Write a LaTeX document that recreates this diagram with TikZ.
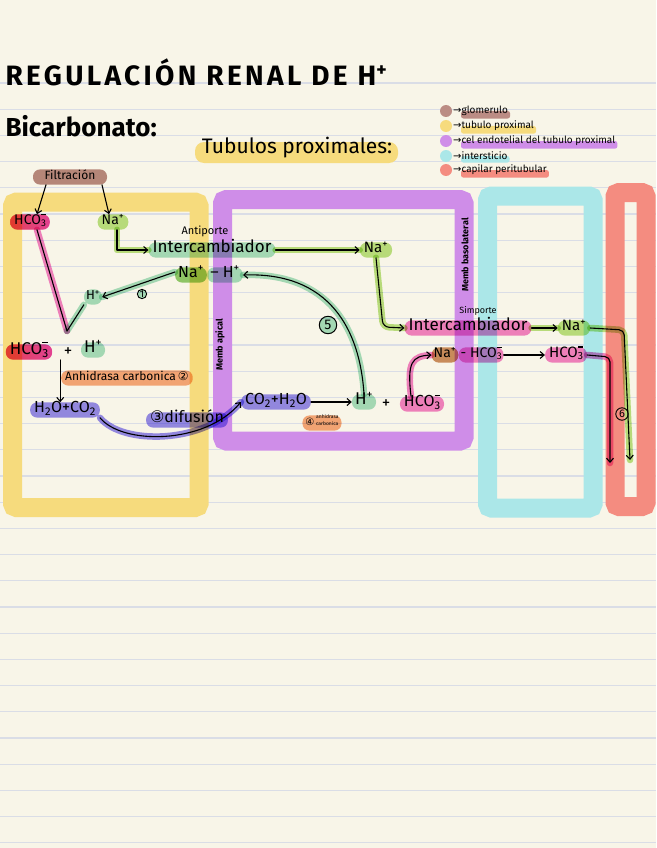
\documentclass[tikz,border=0pt]{standalone}
\usepackage{fontspec}
\setmainfont{Fira Sans}
\newfontfamily\sym{DejaVu Sans}
\usetikzlibrary{arrows.meta,calc}
\pgfdeclarelayer{lines}\pgfdeclarelayer{boxes}\pgfdeclarelayer{hl}
\pgfsetlayers{lines,boxes,hl,main}
\newcommand\fsz[1]{\fontsize{#1}{#1}\selectfont}
\newcommand\supminus{\raisebox{0.66em}{\rule{0.34em}{0.09em}}}
\newcommand\hcoiii{HCO\rlap{\textsubscript{3}}\supminus}
\definecolor{cream}{HTML}{F8F5E8}
\definecolor{ruled}{HTML}{DADDE6}
\definecolor{cyellow}{HTML}{F6DB7D}
\definecolor{cpurple}{HTML}{CF8DE8}
\definecolor{ccyan}{HTML}{ABE7E8}
\definecolor{cred}{HTML}{F48C80}
\definecolor{cmint}{HTML}{A8E0C4}
\definecolor{clgreen}{HTML}{BDE385}
\definecolor{cdgreen}{HTML}{93CE70}
\definecolor{cpink}{HTML}{F485CB}
\definecolor{chred}{HTML}{F5877A}
\definecolor{corange}{HTML}{F8AA7E}
\definecolor{cblue}{HTML}{978DF4}
\definecolor{cglom}{HTML}{BB8C84}
\definecolor{cbrown}{HTML}{CE9163}
\begin{document}
\begin{tikzpicture}[x=1pt,y=-1pt,
  hlbox/.style={fill=#1, rounded corners=7pt, inner xsep=4pt, inner ysep=3pt,
    text height=.72em, text depth=.2em, blend mode=multiply},
  ink/.style={draw=black, line width=1.1pt, line cap=round, line join=round},
  arr/.style={ink, -{Straight Barb[length=4pt,width=7pt]}},
  glow/.style={preaction={draw=#1, line width=6.5pt, arrows=-, line cap=round,
    line join=round, blend mode=multiply}},
  frame/.style={draw=#1, line width=19pt, rounded corners=4pt},
  cnum/.style={font=\sym\fsz{13}, inner sep=0pt},
]
\useasboundingbox (0,0) rectangle (656,848);
\begin{pgfonlayer}{lines}
  \fill[cream] (0,0) rectangle (656,848);
  \foreach \i in {0,...,29} \draw[ruled, line width=1.3pt] (0,{83+26.2*\i}) -- (656,{83+26.2*\i});
\end{pgfonlayer}
\begin{pgfonlayer}{boxes}
  \draw[frame=cyellow] (12.5,202) rectangle (199,507.5);
  \draw[frame=cpurple] (222.5,199.5) rectangle (464,441);
  \draw[frame=ccyan] (487.5,196) rectangle (593,508);
  \draw[frame=cred] (615,192.5) rectangle (646,506.5);
\end{pgfonlayer}

% titles
\node[anchor=west, font=\bfseries\fsz{28}\addfontfeatures{LetterSpace=12}] (title) at (2,72) {REGULACIÓN RENAL DE H\textsuperscript{+}};
\node[anchor=west, font=\bfseries\fsz{26}] (bic) at (2,126) {Bicarbonato:};
\begin{pgfonlayer}{hl}
  \fill[cyellow, rounded corners=9pt] (195,142) rectangle (398,163);
\end{pgfonlayer}
\node[font=\fsz{21}] (tub) at (297,148) {Tubulos proximales:};

% legend
\foreach \c/\t/\y [count=\k] in {cglom/glomerulo/111, cyellow/tubulo proximal/126,
  cpurple/cel endotelial del tubulo proximal/141, ccyan/intersticio/156, cred/capilar peritubular/170} {
  \fill[\c] (446,\y) circle (6);
  \node[anchor=west, font=\fsz{10}, inner sep=1pt] (leg\k) at (452,\y) {{\sym →}\t};
  \begin{pgfonlayer}{hl}
    \fill[\c, rounded corners=2.5pt] ($(leg\k.west)+(9,0)$) rectangle ($(leg\k.south east)+(1,1.5)$);
  \end{pgfonlayer}
}

% left column
\node[hlbox=cglom, font=\fsz{12}, minimum width=74pt] (filt) at (70,177) {Filtración};
\node[hlbox=cpink, left color=chred, right color=cpink, font=\fsz{14}] (hcoa) at (30,222) {\hcoiii};
\node[hlbox=clgreen, font=\fsz{14}] (naa) at (113,222) {Na\textsuperscript{+}};
\draw[arr] ([xshift=-24pt]filt.south) -- ([xshift=7pt]hcoa.north);
\draw[arr] ([xshift=32pt]filt.south) -- ([xshift=-4pt]naa.north);

\node[font=\fsz{11}] (anti) at (205,231) {Antiporte};
\node[hlbox=cmint, font=\fsz{17}] (intera) at (212,250) {Intercambiador};
\draw[arr, glow=clgreen] ([xshift=4pt]naa.south) |- (intera.west);
\node[hlbox=cdgreen, font=\fsz{16}, inner xsep=3pt] (nahna) at (191,275) {Na\textsuperscript{+}};
\node[hlbox=cmint, font=\fsz{16}, anchor=west, inner xsep=3pt] (nahh) at (nahna.east) {– H\textsuperscript{+}};
\node[hlbox=cmint, font=\fsz{13}, inner xsep=2pt] (hsm) at (93,297) {H\textsuperscript{+}};
\draw[arr, glow=cmint] ([yshift=3pt]nahna.west) -- (hsm.east);
\node[cnum, circle, draw=black, line width=0.9pt, fill=cmint, blend mode=multiply, inner sep=0.5pt, font=\fsz{10}] (n1) at (142,294) {1};

\coordinate (vb) at (67,331);
\draw[ink, glow=cpink] ([xshift=7pt]hcoa.south) -- (vb);
\draw[ink, glow=cmint] (vb) -- (hsm.south west);

\node[hlbox=cpink, left color=chred, right color=cpink, font=\fsz{17}] (hcob) at (29,352) {\hcoiii};
\node[font=\fsz{17}] (plus1) at (68,352) {+};
\node[hlbox=cmint, font=\fsz{17}, inner xsep=3pt] (hb) at (93,350) {H\textsuperscript{+}};
\node[hlbox=corange, font=\fsz{12}, anchor=west] (anh) at (61,378) {Anhidrasa carbonica\,{\sym ②}};
\node[hlbox=cblue, font=\fsz{16}] (h2o) at (65,410) {H\textsubscript{2}O+CO\textsubscript{2}};
\draw[arr] (plus1.south west) -- (plus1.south west |- h2o.north);

\node[hlbox=cblue, font=\fsz{16}] (dif) at (187,420) {{\sym ③}difusión};
\node[hlbox=cblue, font=\fsz{16}] (co2) at (276,402) {CO\textsubscript{2}+H\textsubscript{2}O};
\draw[arr, glow=cblue] (h2o.south east) .. controls (122,445) and (205,445) .. (co2.west);

% middle
\node[rotate=90, font=\bfseries\fsz{9}] (mapi) at (220,345) {Memb apical};
\node[hlbox=cmint, font=\fsz{17}, inner xsep=3pt] (hc) at (364,402) {H\textsuperscript{+}};
\draw[arr] (co2.east) -- (hc.west);
\node[hlbox=corange, font=\fsz{10}, inner xsep=3pt] (anh2) at (322,423) {{\sym ④}\,{\fsz{5}\shortstack[l]{anhidrasa\\carbonica}}};
\node[font=\fsz{17}] (plus2) at (386,404) {+};
\node[hlbox=cpink, font=\fsz{16}] (hcoc) at (422,404) {\hcoiii};
\draw[arr, glow=cmint] (hc.north) .. controls (360,330) and (330,272) .. (nahh.east);
\node[cnum, circle, draw=black, line width=1pt, fill=cmint, blend mode=multiply, inner sep=2pt, font=\fsz{14}] (n5) at (328,325) {5};

\node[hlbox=clgreen, font=\fsz{15}] (nab) at (376,250) {Na\textsuperscript{+}};
\draw[arr, glow=clgreen] (intera.east) -- (nab.west);
\node[rotate=90, font=\bfseries\fsz{9}] (mbaso) at (465,255) {Memb basolateral};
\node[font=\fsz{9}] (simp) at (478,311) {Simporte};
\node[hlbox=cpink, font=\fsz{17}] (interb) at (468,328) {Intercambiador};
\coordinate (k1) at (383,327);
\draw[arr, glow=clgreen, rounded corners=6pt] (nab.south) -- (k1) -- (interb.west);
\node[hlbox=clgreen, font=\fsz{15}] (nac) at (574,328) {Na\textsuperscript{+}};
\draw[arr, glow=clgreen] (interb.east) -- (nac.west);

\node[hlbox=cbrown, font=\fsz{14}, inner xsep=2pt] (nahcna) at (445,355) {Na\textsuperscript{+}};
\node[hlbox=cpink, font=\fsz{14}, anchor=west, inner xsep=2pt] (nahcb) at (nahcna.east) {- \hcoiii};
\node[hlbox=cpink, font=\fsz{15}] (hcod) at (566,355) {\hcoiii};
\draw[arr] (nahcb.east) -- (hcod.west);
\draw[arr, glow=cpink] ([xshift=-11pt]hcoc.north) .. controls (407,362) and (412,356) .. (nahcna.west);

% right
\coordinate (k2) at (624,330);
\coordinate (k3) at (630,460);
\draw[arr, glow=clgreen, rounded corners=5pt] (nac.east) -- (k2) -- (k3);
\coordinate (k4) at (610,357);
\coordinate (k5) at (610,463);
\draw[arr, glow=cpink, rounded corners=5pt] (hcod.east) -- (k4) -- (k5);
\node[cnum, circle, draw=black, line width=0.9pt, inner sep=1pt, font=\fsz{11}] (n6) at (622,414) {6};
\end{tikzpicture}
\end{document}
